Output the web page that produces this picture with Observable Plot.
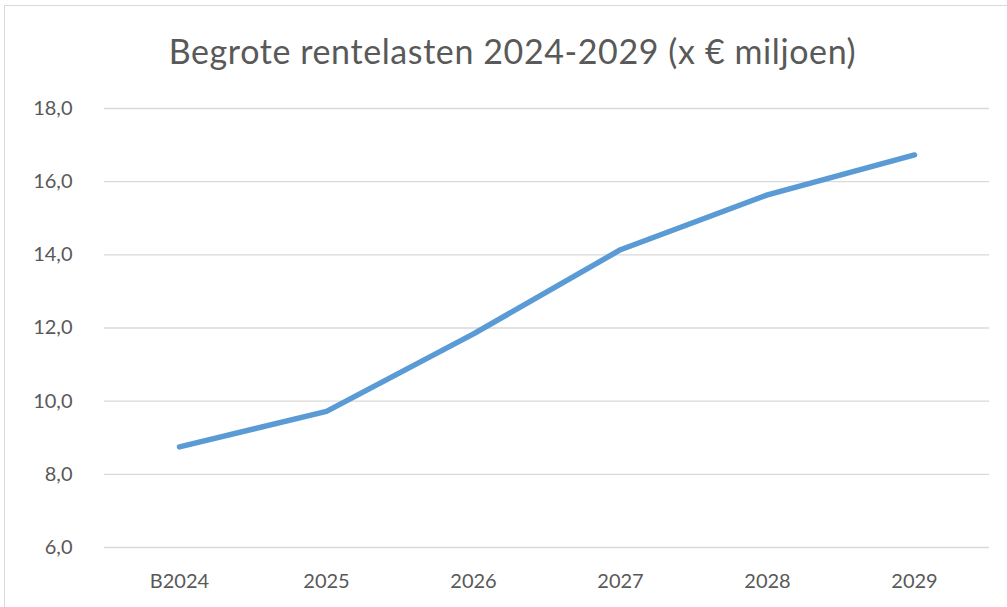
<!DOCTYPE html>
<html>
<head>
<meta charset="utf-8">
<script src="https://cdn.jsdelivr.net/npm/d3@7"></script>
<script src="https://cdn.jsdelivr.net/npm/@observablehq/plot@0.6"></script>
<style>
  html, body { margin: 0; padding: 0; background: #fff; }
  #wrap { position: relative; width: 1007px; height: 607px; overflow: hidden; font-family: Lato, "Open Sans", sans-serif; }
  #frame { position: absolute; left: 4px; top: 5px; width: 1010px; height: 610px; border: 1px solid #d9d9d9; box-sizing: border-box; }
  #title { position: absolute; left: 0; top: 0; width: 1025px; height: 90px; line-height: 102px; text-align: center; font-size: 34px; letter-spacing: 0.6px; color: #595959; white-space: nowrap; }
  #chart { position: absolute; left: 0; top: 90px; }
</style>
</head>
<body>
<div id="wrap">
  <div id="frame"></div>
  <div id="title">Begrote rentelasten 2024-2029 (x € miljoen)</div>
  <div id="chart"></div>
</div>
<script>
const categories = ["B2024", "2025", "2026", "2027", "2028", "2029"];
const values = [8.75, 9.72, 11.84, 14.14, 15.64, 16.73];
const yTicks = [6, 8, 10, 12, 14, 16, 18];

const data = categories.map((c, i) => ({ jaar: c, waarde: values[i] }));
const fmt = d => d.toFixed(1).replace(".", ",");

const plot = Plot.plot({
  width: 1007,
  height: 517,
  marginTop: 18,
  marginBottom: 60,
  marginLeft: 104,
  marginRight: 18,
  style: { fontFamily: "Lato, 'Open Sans', sans-serif", fontSize: "20px", color: "#595959", background: "transparent" },
  x: { type: "point", domain: categories, padding: 0.5, label: null },
  y: { domain: [6, 18], ticks: yTicks, label: null },
  marks: [
    Plot.ruleY(yTicks, { stroke: "#d9d9d9", strokeWidth: 1.3 }),
    Plot.axisY({ ticks: yTicks, tickSize: 0, tickPadding: 32, tickFormat: fmt, label: null, fill: "#595959" }),
    Plot.axisX({ tickSize: 0, tickPadding: 26, label: null, fill: "#595959" }),
    Plot.line(data, { x: "jaar", y: "waarde", stroke: "#5b9bd5", strokeWidth: 5.5, strokeLinecap: "round", strokeLinejoin: "round" })
  ]
});
document.getElementById("chart").appendChild(plot);
</script>
</body>
</html>
